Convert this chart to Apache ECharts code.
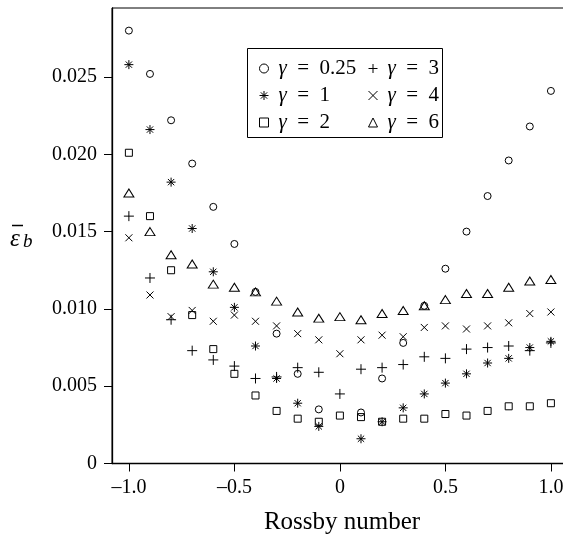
<!DOCTYPE html>
<html>
<head>
<meta charset="utf-8">
<script src="https://cdn.jsdelivr.net/npm/echarts@6/dist/echarts.min.js"></script>
<style>html,body{margin:0;padding:0;background:#fff}#c{width:563px;height:536px}</style>
</head>
<body>
<div id="c"></div>
<script>
var rossby = [-1.0,-0.9,-0.8,-0.7,-0.6,-0.5,-0.4,-0.3,-0.2,-0.1,0.0,0.1,0.2,0.3,0.4,0.5,0.6,0.7,0.8,0.9,1.0];
var g025 = [0.0280,0.0252,0.0222,0.0194,0.0166,0.0142,0.0111,0.0084,0.0058,0.0035,null,0.0033,0.0055,0.0078,0.0102,0.0126,0.0150,0.0173,0.0196,0.0218,0.0241];
var g1   = [0.0258,0.0216,0.0182,0.0152,0.0124,0.0101,0.0076,0.0055,0.0039,0.0024,null,0.0016,0.0027,0.0036,0.0045,0.0052,0.0058,0.0065,0.0068,0.0075,0.0079];
var g2   = [0.0201,0.0160,0.0125,0.0096,0.0074,0.0058,0.0044,0.0034,0.0029,0.0027,0.0031,0.0030,0.0027,0.0029,0.0029,0.0032,0.0031,0.0034,0.0037,0.0037,0.0039];
var g3   = [0.0160,0.0120,0.0093,0.0073,0.0067,0.0063,0.0055,0.0056,0.0062,0.0059,0.0045,0.0061,0.0062,0.0064,0.0069,0.0068,0.0074,0.0075,0.0076,0.0073,0.0078];
var g4   = [0.0146,0.0109,0.0095,0.0099,0.0092,0.0096,0.0092,0.0089,0.0084,0.0080,0.0071,0.0080,0.0083,0.0082,0.0088,0.0089,0.0087,0.0089,0.0091,0.0097,0.0098];
var g6   = [0.0175,0.0150,0.0135,0.0129,0.0116,0.0114,0.0111,0.0105,0.0098,0.0094,0.0095,0.0093,0.0097,0.0099,0.0102,0.0106,0.0110,0.0110,0.0114,0.0118,0.0119];
var xTicks = [-1.0,-0.5,0,0.5,1.0];
var xTickLabels = ['\u20131.0','\u20130.5','0','0.5','1.0'];
var yTicks = [0,0.005,0.010,0.015,0.020,0.025];
var yTickLabels = ['0','0.005','0.010','0.015','0.020','0.025'];
var seriesNames = ['\u03b3 = 0.25','\u03b3 = 1','\u03b3 = 2','\u03b3 = 3','\u03b3 = 4','\u03b3 = 6'];

var FONT = 'Liberation Serif';
var SYM = {
  circle: 'circle',
  star: 'path://M0,5L10,5M5,0L5,10M1.5,1.5L8.5,8.5M8.5,1.5L1.5,8.5',
  square: 'rect',
  plus: 'path://M0,5L10,5M5,0L5,10',
  cross: 'path://M0,0L10,10M10,0L0,10',
  tri: 'triangle'
};
function pairs(vals){
  var out=[];
  for(var i=0;i<rossby.length;i++){ if(vals[i]!==null) out.push([rossby[i], vals[i]]); }
  return out;
}
function mk(name, vals, sym, size){
  return {
    type:'scatter', name:name, data:pairs(vals), symbol:sym, symbolSize:size,
    itemStyle:{color:'rgba(0,0,0,0)', borderColor:'#000', borderWidth:1, opacity:1},
    emphasis:{disabled:true}, silent:true, animation:false
  };
}
var legendText = {
  fontFamily:FONT, fontSize:21, color:'#000', lineHeight:20,
  rich:{
    g:{fontFamily:FONT, fontSize:21, fontStyle:'italic', color:'#000', lineHeight:20, padding:[0,0,0,5]},
    t:{fontFamily:FONT, fontSize:21, color:'#000', lineHeight:20}
  }
};
function legFmt(n){
  var rest = n.slice(1).replace(' = ', '\u2002=\u2002');
  return '{g|\u03b3}{t|' + rest + '}';
}

var chart = echarts.init(document.getElementById('c'), null, {renderer:'canvas'});
chart.setOption({
  animation:false,
  backgroundColor:'#fff',
  grid:{left:112, top:8, width:460, height:455.5, containLabel:false, outerBoundsMode:'none',
        show:true, borderColor:'#000', borderWidth:1, backgroundColor:'rgba(0,0,0,0)'},
  xAxis:{
    type:'value', min:-1.08, max:1.1,
    name:'Rossby number', nameLocation:'middle', nameGap:46,
    nameTextStyle:{fontFamily:FONT, fontSize:25, color:'#000'},
    axisLine:{show:true, onZero:false, lineStyle:{color:'#000', width:1.3}},
    axisTick:{show:true, inside:false, length:8, lineStyle:{color:'#000'}, customValues:xTicks},
    axisLabel:{margin:14, fontFamily:FONT, fontSize:20, color:'#000', customValues:xTicks,
      formatter:function(v){ for(var i=0;i<xTicks.length;i++){ if(Math.abs(v-xTicks[i])<1e-9) return xTickLabels[i]; } return ''; }},
    splitLine:{show:false}
  },
  yAxis:{
    type:'value', min:0, max:0.029463,
    axisLine:{show:true, onZero:false, lineStyle:{color:'#000', width:1.3}},
    axisTick:{show:true, inside:false, length:8, lineStyle:{color:'#000'}, customValues:yTicks},
    axisLabel:{margin:15, fontFamily:FONT, fontSize:20, color:'#000', customValues:yTicks,
      formatter:function(v){ for(var i=0;i<yTicks.length;i++){ if(Math.abs(v-yTicks[i])<1e-9) return yTickLabels[i]; } return ''; }},
    splitLine:{show:false}
  },
  legend:[
    {orient:'vertical', left:259, top:58, padding:0, itemGap:6, itemWidth:9, itemHeight:9,
     data:[seriesNames[0],seriesNames[1],seriesNames[2]], textStyle:legendText, formatter:legFmt,
     itemStyle:{borderWidth:1}, selectedMode:false},
    {orient:'vertical', left:368, top:58, padding:0, itemGap:6, itemWidth:9, itemHeight:9,
     data:[seriesNames[3],seriesNames[4],seriesNames[5]], textStyle:legendText, formatter:legFmt,
     itemStyle:{borderWidth:1}, selectedMode:false}
  ],
  graphic:[
    {type:'rect', shape:{x:247.5, y:48.5, width:195, height:89}, style:{fill:'none', stroke:'#000', lineWidth:1}, silent:true},
    {type:'text', left:10, top:227, style:{text:'\u03b5', font:'italic 25px "Liberation Serif"', fill:'#000'}, silent:true},
    {type:'line', shape:{x1:12, y1:225.5, x2:23, y2:225.5}, style:{stroke:'#000', lineWidth:1.5}, silent:true},
    {type:'text', left:23, top:232, style:{text:'b', font:'italic 19px "Liberation Serif"', fill:'#000'}, silent:true}
  ],
  series:[
    mk(seriesNames[0], g025, SYM.circle, 7),
    mk(seriesNames[1], g1, SYM.star, 9),
    mk(seriesNames[2], g2, SYM.square, 7),
    mk(seriesNames[3], g3, SYM.plus, 10),
    mk(seriesNames[4], g4, SYM.cross, 7),
    mk(seriesNames[5], g6, SYM.tri, [10,8])
  ]
});
</script>
</body>
</html>
